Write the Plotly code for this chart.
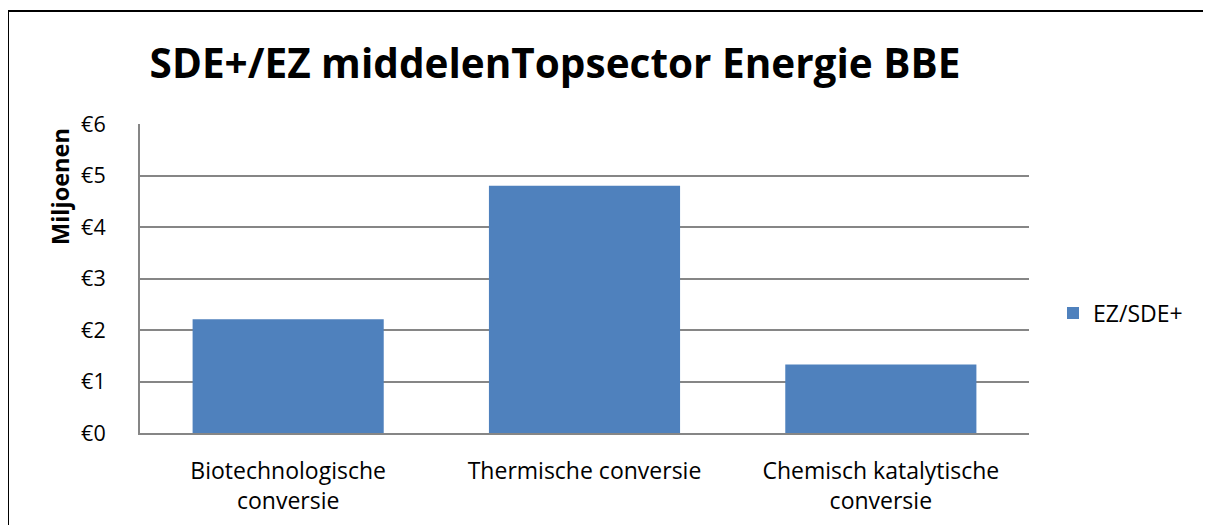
import plotly.graph_objects as go

categories = ["Biotechnologische<br>conversie", "Thermische conversie", "Chemisch katalytische<br>conversie"]
values = [2.21, 4.80, 1.33]
series_name = "EZ/SDE+"
tick_vals = [0, 1, 2, 3, 4, 5, 6]
tick_text = ["€0", "€1", "€2", "€3", "€4", "€5", "€6"]

OFF = 8  # body margin offset of the page
W, H = 1211 - OFF, 525 - OFF
# reference screen coordinates
PL, PR, PT, PB = 140, 1029, 124, 433
L, R, T, B = PL - OFF, W - (PR - OFF), PT - OFF, H - (PB - OFF)
pw, ph = PR - PL, PB - PT
FONT = "Open Sans"


def px(xs):
    return (xs - PL) / pw


def py(ys):
    return (PB - ys) / ph


fig = go.Figure()
fig.add_trace(go.Bar(x=categories, y=values, name=series_name,
                     marker=dict(color="#4F81BD", line=dict(width=0))))

fig.update_layout(
    width=W, height=H,
    margin=dict(l=L, r=R, t=T, b=B, autoexpand=False),
    paper_bgcolor="white", plot_bgcolor="white",
    font=dict(family=FONT, size=21, color="black"),
    bargap=0.355,
    showlegend=True,
    legend=dict(x=px(1053), y=py(313), xanchor="left", yanchor="middle",
                font=dict(size=23, family=FONT), itemwidth=30, bgcolor="rgba(0,0,0,0)"),
    title=dict(text="<b>SDE+/EZ middelenTopsector Energie BBE</b>", x=(555 - OFF) / W, xanchor="center",
               y=1 - (64 - OFF) / H, yanchor="middle", xref="container", yref="container",
               font=dict(size=40.5, family=FONT, color="black")),
)
fig.update_xaxes(showline=True, linecolor="#868686", linewidth=2, showgrid=False,
                 ticks="", ticklabelstandoff=16, tickfont=dict(size=23))
fig.update_yaxes(range=[0, 6], tickvals=tick_vals, ticktext=tick_text,
                 showline=True, linecolor="#868686", linewidth=2,
                 showgrid=True, gridcolor="#868686", gridwidth=1.5,
                 ticks="", ticklabelstandoff=28, tickfont=dict(size=21.5), zeroline=False)

fig.add_annotation(text="<b>Miljoenen</b>", xref="paper", yref="paper",
                   x=px(60), y=py(187), xanchor="center", yanchor="middle",
                   textangle=-90, showarrow=False, font=dict(size=23.5, family=FONT))

fig.add_shape(type="rect", xref="paper", yref="paper",
              x0=px(8), x1=px(1207), y0=py(540), y1=py(11),
              line=dict(color="black", width=2), fillcolor="rgba(0,0,0,0)", layer="above")

fig.write_html("out.html")
